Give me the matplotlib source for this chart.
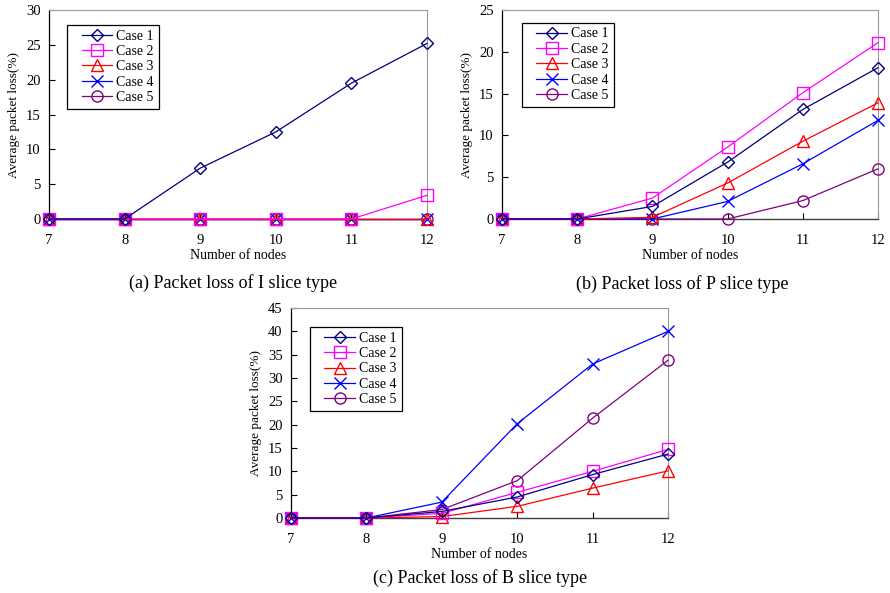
import matplotlib
matplotlib.use("Agg")
import matplotlib.pyplot as plt
from matplotlib.legend_handler import HandlerLine2D
from matplotlib.lines import Line2D

plt.rcParams['font.family'] = ['Liberation Serif', 'DejaVu Serif']

nodes = [7, 8, 9, 10, 11, 12]
case_names = ['Case 1', 'Case 2', 'Case 3', 'Case 4', 'Case 5']

# I slice type
i_case1 = [0, 0, 7.3, 12.5, 19.5, 25.2]
i_case2 = [0, 0, 0, 0, 0, 3.4]
i_case3 = [0, 0, 0, 0, 0, 0]
i_case4 = [0, 0, 0, 0, 0, 0]
i_case5 = [0, 0, 0, 0, 0, 0]

# P slice type
p_case1 = [0, 0, 1.5, 6.8, 13.1, 18.1]
p_case2 = [0, 0, 2.5, 8.6, 15.1, 21.1]
p_case3 = [0, 0, 0.2, 4.3, 9.3, 13.9]
p_case4 = [0, 0, 0, 2.1, 6.6, 11.8]
p_case5 = [0, 0, 0, 0, 2.2, 6.0]

# B slice type
b_case1 = [0, 0, 1.4, 4.5, 9.3, 13.7]
b_case2 = [0, 0, 1.0, 5.5, 10.0, 14.7]
b_case3 = [0, 0, 0.3, 2.5, 6.4, 10.1]
b_case4 = [0, 0, 3.4, 20.2, 33.0, 40.0]
b_case5 = [0, 0, 1.8, 8.0, 21.4, 33.8]

colors = ['#000080', '#FF00FF', '#FF0000', '#0000FF', '#800080']
markers = ['D', 's', '^', 'x', 'o']
msizes = [6.5, 8, 8.5, 8, 8]


def draw_panel(ax, series, ymax, ystep, caption, cap_xy, legend_pos):
    # later cases are drawn first so case 1 ends up on top
    for k in range(len(series) - 1, -1, -1):
        ax.plot(nodes, series[k], color=colors[k], lw=0.9, marker=markers[k],
                ms=msizes[k], mfc='none', mec=colors[k], mew=1.0,
                label=case_names[k], clip_on=False, zorder=3 + (5 - k))
    ax.set_xlim(7, 12)
    ax.set_ylim(0, ymax)
    ax.set_xticks(nodes)
    ax.set_yticks(range(0, ymax + 1, ystep))
    for side in ['top', 'right']:
        ax.spines[side].set_color('#999999')
        ax.spines[side].set_linewidth(0.8)
    ax.spines['left'].set_color('black')
    ax.spines['left'].set_linewidth(0.9)
    ax.spines['bottom'].set_color('#404040')
    ax.spines['bottom'].set_linewidth(1.0)
    ax.tick_params(axis='y', direction='in', length=4, width=0.8,
                   labelsize=10.5, pad=6)
    ax.tick_params(axis='x', direction='in', length=4, width=0.8,
                   labelsize=10.5, pad=11)
    ax.set_xlabel('Number of nodes', fontsize=10, labelpad=1)
    ax.set_ylabel('Average packet loss(%)', fontsize=9.5, labelpad=4)
    fig.text(cap_xy[0], cap_xy[1], caption, ha='center', va='center',
             fontsize=13)
    handles, labels = ax.get_legend_handles_labels()
    leg = ax.legend(handles[::-1], labels[::-1], loc='upper left',
                    bbox_to_anchor=legend_pos, fontsize=10, frameon=True,
                    fancybox=False, edgecolor='black', framealpha=1,
                    handlelength=2.9, handletextpad=0.3, labelspacing=0.17,
                    borderpad=0.35, borderaxespad=0,
                    handler_map={Line2D: HandlerLine2D(xpad=0.7)})
    leg.get_frame().set_linewidth(0.9)


fig = plt.figure(figsize=(8.9, 5.93), dpi=100)
ax_i = fig.add_axes([0.0551, 0.6307, 0.4247, 0.3524])
ax_p = fig.add_axes([0.5640, 0.6307, 0.4225, 0.3524])
ax_b = fig.add_axes([0.3270, 0.1265, 0.4236, 0.3541])

draw_panel(ax_i, [i_case1, i_case2, i_case3, i_case4, i_case5], 30, 5,
           '(a) Packet loss of I slice type', (233 / 890, 1 - 283 / 593),
           (0.048, 0.93))
draw_panel(ax_p, [p_case1, p_case2, p_case3, p_case4, p_case5], 25, 5,
           '(b) Packet loss of P slice type', (682 / 890, 1 - 284 / 593),
           (0.053, 0.94))
draw_panel(ax_b, [b_case1, b_case2, b_case3, b_case4, b_case5], 45, 5,
           '(c) Packet loss of B slice type', (480 / 890, 1 - 578 / 593),
           (0.05, 0.91))

fig.savefig('out.png', dpi=100)
